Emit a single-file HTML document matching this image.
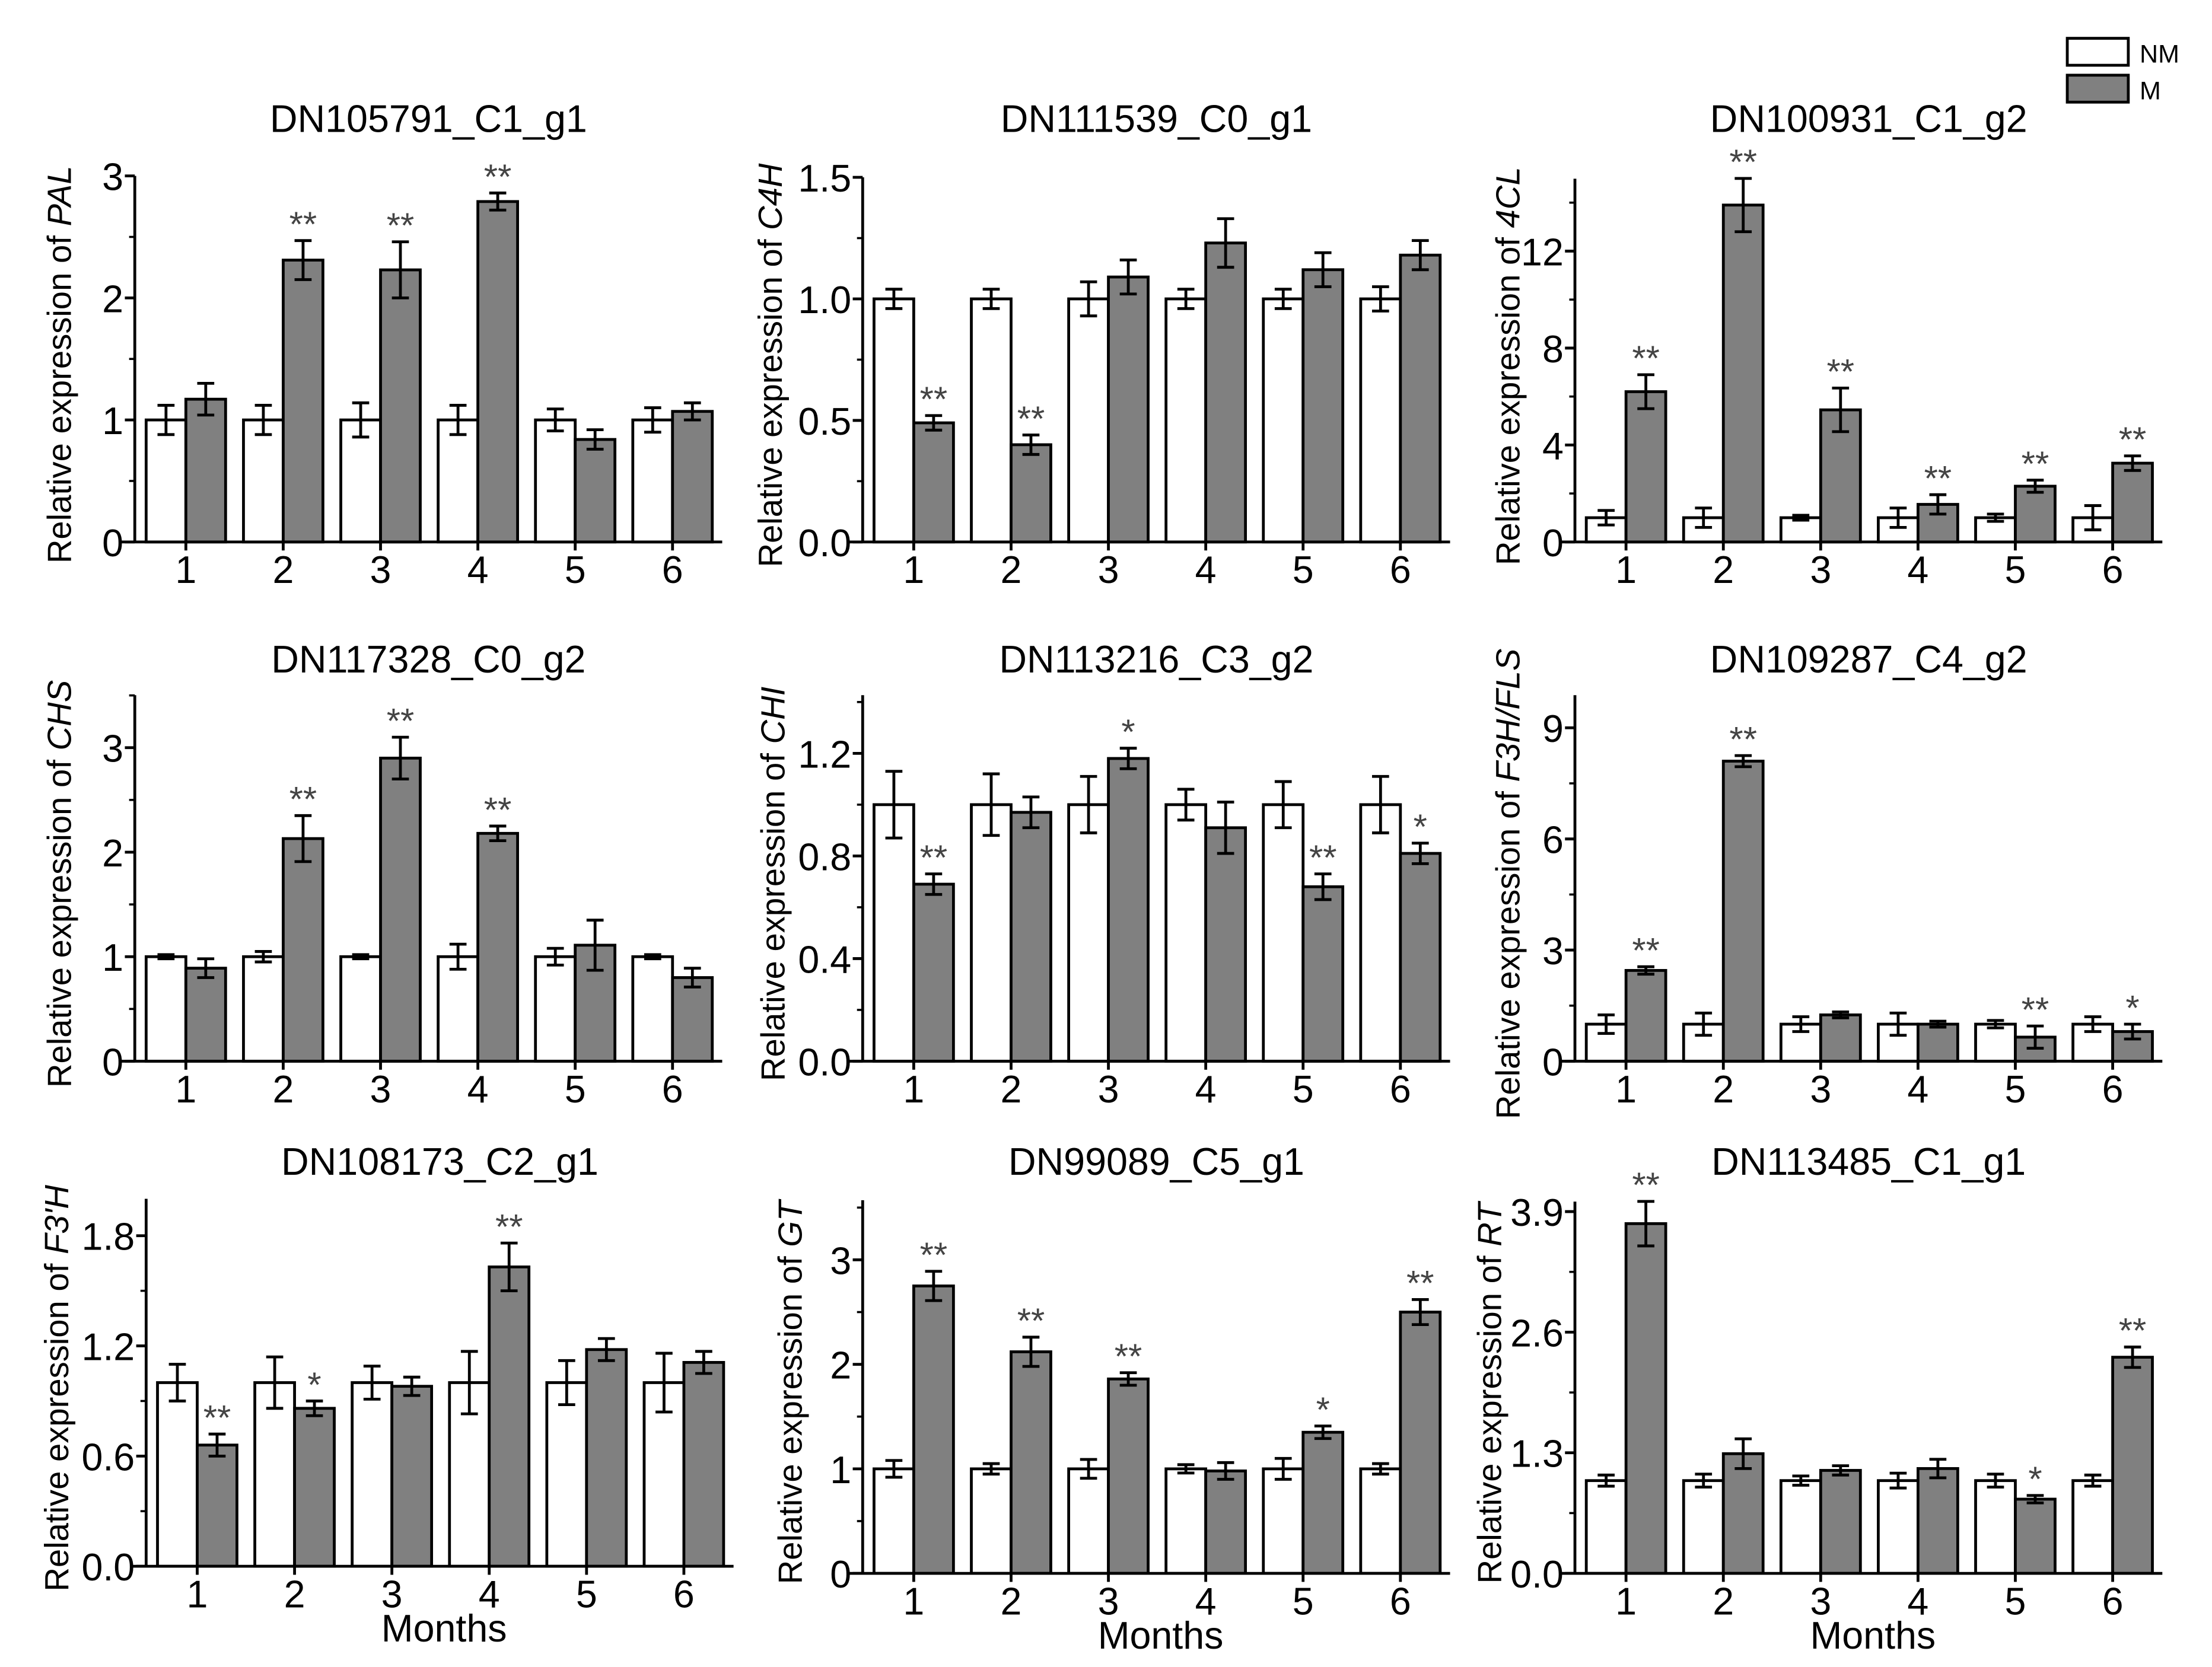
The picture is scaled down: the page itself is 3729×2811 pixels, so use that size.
<!DOCTYPE html>
<html><head><meta charset="utf-8"><style>
html,body{margin:0;padding:0;background:#fff;}
svg{display:block;font-family:"Liberation Sans",Arial,sans-serif;}
</style></head><body>
<svg id="fig" width="3729" height="2811" viewBox="0 0 1559 1175" preserveAspectRatio="none" xmlns="http://www.w3.org/2000/svg">
<g>
<rect x="1457" y="27" width="43" height="19" fill="#fff" stroke="#000" stroke-width="2"/>
<text x="1508" y="44" font-size="18">NM</text>
<rect x="1457" y="53" width="43" height="19" fill="#808080" stroke="#000" stroke-width="2"/>
<text x="1508" y="70" font-size="18">M</text>
</g>
</svg>
<script>
const categories = ["1","2","3","4","5","6"];
const titles = ["DN105791_C1_g1","DN111539_C0_g1","DN100931_C1_g2","DN117328_C0_g2","DN113216_C3_g2","DN109287_C4_g2","DN108173_C2_g1","DN99089_C5_g1","DN113485_C1_g1"];
const genes = ["PAL","C4H","4CL","CHS","CHI","F3H/FLS","F3'H","GT","RT"];
const nmValues = [[1,1,1,1,1,1],[1,1,1,1,1,1],[1,1,1,1,1,1],[1,1,1,1,1,1],[1,1,1,1,1,1],[1,1,1,1,1,1],[1,1,1,1,1,1],[1,1,1,1,1,1],[1,1,1,1,1,1]];
const nmErrors = [[0.12,0.12,0.14,0.12,0.09,0.1],[0.04,0.04,0.07,0.04,0.04,0.05],[0.3,0.4,0.1,0.4,0.15,0.5],[0.02,0.05,0.02,0.12,0.08,0.02],[0.13,0.12,0.11,0.06,0.09,0.11],[0.25,0.3,0.2,0.3,0.1,0.2],[0.1,0.14,0.09,0.17,0.12,0.16],[0.08,0.05,0.09,0.04,0.1,0.05],[0.06,0.07,0.05,0.08,0.07,0.06]];
const mValues = [[1.17,2.31,2.23,2.79,0.84,1.07],[0.49,0.40,1.09,1.23,1.12,1.18],[6.2,13.9,5.45,1.55,2.3,3.25],[0.89,2.13,2.9,2.18,1.11,0.8],[0.69,0.97,1.18,0.91,0.68,0.81],[2.45,8.1,1.25,1.0,0.65,0.8],[0.66,0.86,0.98,1.63,1.18,1.11],[2.75,2.12,1.86,0.98,1.35,2.5],[3.77,1.29,1.11,1.13,0.8,2.33]];
const mErrors = [[0.13,0.16,0.23,0.07,0.08,0.07],[0.03,0.04,0.07,0.1,0.07,0.06],[0.7,1.1,0.9,0.4,0.25,0.3],[0.09,0.22,0.2,0.07,0.24,0.09],[0.04,0.06,0.04,0.1,0.05,0.04],[0.1,0.15,0.08,0.08,0.3,0.2],[0.06,0.04,0.05,0.13,0.06,0.06],[0.14,0.14,0.06,0.08,0.06,0.12],[0.24,0.16,0.05,0.1,0.04,0.11]];
const stars = [["","**","**","**","",""],["**","**","","","",""],["**","**","**","**","**","**"],["","**","**","**","",""],["**","","*","","**","*"],["**","**","","","**","*"],["**","*","","**","",""],["**","**","**","","*","**"],["**","","","","*","**"]];
const tickLabels = [["0","1","2","3"],["0.0","0.5","1.0","1.5"],["0","4","8","12"],["0","1","2","3"],["0.0","0.4","0.8","1.2"],["0","3","6","9"],["0.0","0.6","1.2","1.8"],["0","1","2","3"],["0.0","1.3","2.6","3.9"]];
const axXs=[95,608,1110,95,608,1110,103,608,1110];
const y0s=[382,382,382,748,748,748,1104,1109,1109];
const titleY=[85,466,820];
const topPxs=[124,125,126,490,490,490,845,846,847];
const topTickPxs=[124,125,177,527,531,513,871,888,854];
const labelX=[42,543,1063,42,545,1063,40,557,1050];
const NS="http://www.w3.org/2000/svg";
const svg=document.getElementById('fig');
function mk(tag,attrs,parent){const e=document.createElementNS(NS,tag);for(const k in attrs)e.setAttribute(k,attrs[k]);parent.appendChild(e);return e;}
for(let p=0;p<9;p++){
  const r=Math.floor(p/3);
  const ax=axXs[p], y0=y0s[p], W=414, top=topPxs[p];
  const ticks=tickLabels[p].map(Number);
  const tmax=ticks[ticks.length-1];
  const scale=(y0-topTickPxs[p])/tmax;
  const y=v=>y0-v*scale;
  const gx=i=>ax+36+68.6*i;
  const g=mk('g',{},svg);
  
  
  const t=mk('text',{x:ax+207,y:titleY[r]+8,'font-size':27,'text-anchor':'middle'},g);
  
  
  t.textContent=titles[p];
  const lx=labelX[p]+8;
  const yl=mk('text',{transform:`translate(${lx},${(y0+top)/2+4}) rotate(-90)`,'font-size':23.5,'text-anchor':'middle'},g);
  
  
  yl.appendChild(document.createTextNode('Relative expression of '));
  const it=mk('tspan',{'font-style':'italic'},yl); it.textContent=genes[p];
  for(let i=0;i<6;i++){
    const cx=gx(i);
    const vals=[[nmValues[p][i],nmErrors[p][i],'#fff',cx-28],[mValues[p][i],mErrors[p][i],'#808080',cx]];
    vals.forEach((v,k)=>{
      const b=mk('rect',{x:v[3],y:y(v[0]),width:28,height:y0-y(v[0]),fill:v[2],stroke:'#000','stroke-width':2},g);
      
      
      const ex=v[3]+14, hi=y(v[0]+v[1]), lo=y(v[0]-v[1]);
      const eb=mk('path',{d:`M${ex},${hi}V${lo}M${ex-6},${hi}H${ex+6}M${ex-6},${lo}H${ex+6}`,stroke:'#000','stroke-width':2,fill:'none'},g);
      
      
      if(k===1&&stars[p][i]){
        const s=mk('text',{x:ex,y:hi-3,'font-size':25,'text-anchor':'middle',fill:'#444'},g);
        
        
        s.textContent=stars[p][i];
      }
    });
    const xl=mk('text',{x:cx,y:y0+29,'font-size':27,'text-anchor':'middle'},g);
    
    
    xl.textContent=categories[i];
    mk('line',{x1:cx,x2:cx,y1:y0,y2:y0+6,stroke:'#000','stroke-width':2},g);
  }
  const axl=mk('path',{d:`M${ax},${top}V${y0}M${ax-11},${y0}H${ax+W}`,stroke:'#000','stroke-width':2,fill:'none'},g);
  
  
  ticks.forEach((v,k)=>{
    mk('line',{x1:ax-7,x2:ax,y1:y(v),y2:y(v),stroke:'#000','stroke-width':2},g);
    const tl=mk('text',{x:ax-8,y:y(v)+10,'font-size':27,'text-anchor':'end'},g);
    
    
    tl.textContent=tickLabels[p][k];
    const half=v+(ticks[1]-ticks[0])/2;
    if(y(half)>=top-1) mk('line',{x1:ax-4,x2:ax,y1:y(half),y2:y(half),stroke:'#000','stroke-width':1.5},g);
  });
  if(r===2){
    const m=mk('text',{x:ax+210,y:y0+53,'font-size':27,'text-anchor':'middle'},g);
    
    
    m.textContent='Months';
  }
}
</script>
</body></html>
